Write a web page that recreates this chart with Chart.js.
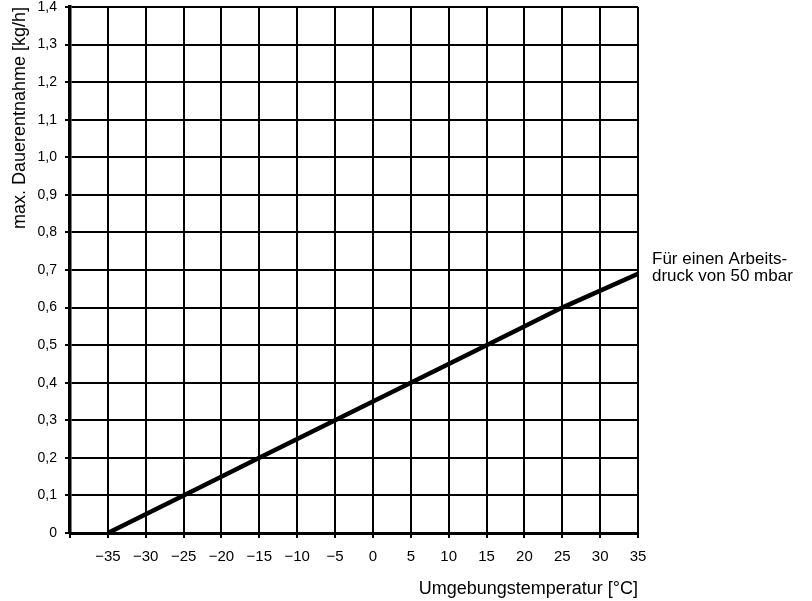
<!DOCTYPE html>
<html><head><meta charset="utf-8">
<script src="https://cdn.jsdelivr.net/npm/chart.js@4"></script>
<style>html,body{margin:0;padding:0;background:#fff}#wrap{width:812px;height:601px;position:relative}</style>
</head><body><div id="wrap"><canvas id="c" width="812" height="601"></canvas></div>
<script>
const temperatures = [-35, -25, -15, -5, 5, 15, 25, 35];
const withdrawal = [0, 0.1, 0.2, 0.3, 0.4, 0.5, 0.6, 0.69];
const xTickLabels = ['', '−35', '−30', '−25', '−20', '−15', '−10', '−5', '0', '5', '10', '15', '20', '25', '30', '35'];
const yTickLabels = ['0', '0,1', '0,2', '0,3', '0,4', '0,5', '0,6', '0,7', '0,8', '0,9', '1,0', '1,1', '1,2', '1,3', '1,4'];
const xTitle = 'Umgebungstemperatur [°C]';
const yTitle = 'max. Dauerentnahme [kg/h]';
const noteLines = ['Für einen Arbeits-', 'druck von 50 mbar'];

const FONT = '"Liberation Sans", Arial, sans-serif';

const notePlugin = {
  id: 'note',
  afterDraw(chart) {
    const ctx = chart.ctx;
    ctx.save();
    ctx.fillStyle = '#000';
    ctx.font = '17px ' + FONT;
    ctx.textAlign = 'left';
    ctx.textBaseline = 'middle';
    ctx.fillText(noteLines[0], 652, 259);
    ctx.fillText(noteLines[1], 652, 276);
    ctx.restore();
  }
};

new Chart(document.getElementById('c'), {
  type: 'line',
  data: {
    datasets: [{
      data: temperatures.map((t, i) => ({x: t, y: withdrawal[i]})),
      borderColor: '#000',
      borderWidth: 4.5,
      pointRadius: 0,
      fill: false,
      tension: 0
    }]
  },
  plugins: [notePlugin],
  options: {
    responsive: false,
    animation: false,
    layout: {padding: {top: 7, right: 174, left: 0, bottom: 0}},
    plugins: {legend: {display: false}, tooltip: {enabled: false}},
    scales: {
      x: {
        type: 'linear', min: -40, max: 35,
        afterFit(s) { s.height = 68; s.paddingLeft = 0; s.paddingRight = 0; },
        ticks: {
          stepSize: 5, autoSkip: false, maxRotation: 0,
          color: '#000', font: {size: 15, family: FONT}, padding: 10,
          callback: (v, i) => xTickLabels[i] ?? ''
        },
        grid: {color: '#000', lineWidth: 2, tickLength: 5, drawTicks: true},
        border: {color: '#000', width: 3},
        title: {display: true, text: xTitle, align: 'end', color: '#000', font: {size: 18, family: FONT}, padding: {top: 4, bottom: 1}}
      },
      y: {
        type: 'linear', min: 0, max: 1.4,
        afterFit(s) { s.width = 70; s.paddingTop = 0; s.paddingBottom = 0; },
        ticks: {
          stepSize: 0.1, autoSkip: false,
          color: '#000', font: {size: 14, family: FONT}, padding: 8,
          callback: (v, i) => yTickLabels[i] ?? ''
        },
        grid: {color: '#000', lineWidth: 2, tickLength: 5},
        border: {color: '#000', width: 3.5},
        title: {display: true, text: yTitle, align: 'end', color: '#000', font: {size: 18, family: FONT}, padding: {top: 9, bottom: 0}}
      }
    }
  }
});
</script></body></html>
